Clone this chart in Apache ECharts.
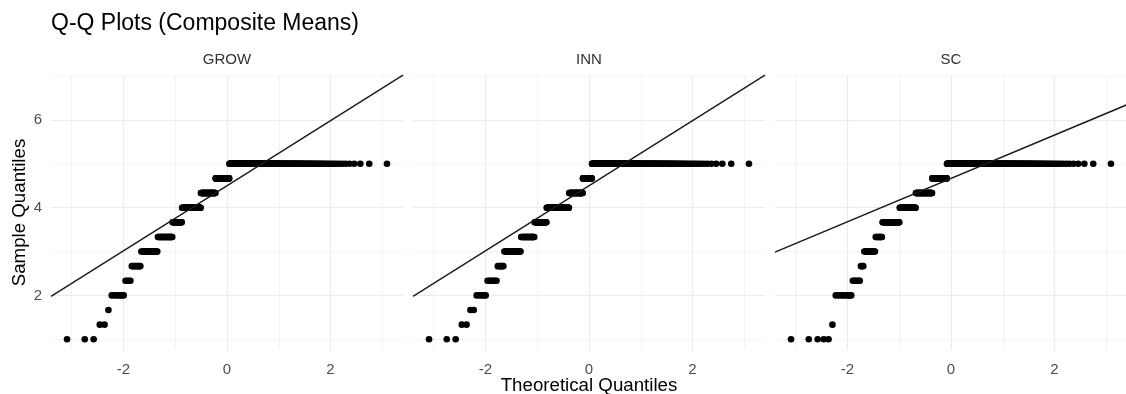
<!DOCTYPE html>
<html>
<head>
<meta charset="utf-8">
<script src="https://cdn.jsdelivr.net/npm/echarts@6/dist/echarts.min.js"></script>
<style>
html, body { margin: 0; padding: 0; background: #fff; }
#chart { width: 1126px; height: 394px; }
</style>
</head>
<body>
<div id="chart"></div>
<script>
// composite mean levels (steps of 1/3 on the 1-5 scale)
var levels = [1, 1.333, 1.667, 2, 2.333, 2.667, 3, 3.333, 3.667, 4, 4.333, 4.667, 5];
// respondents per level, read from the length of each run of points (n = 500)
var growCounts = [3, 2, 1, 6, 4, 8, 21, 28, 23, 57, 53, 53, 241];
var innCounts = [3, 2, 2, 5, 7, 6, 22, 26, 30, 72, 51, 35, 239];
var scCounts = [5, 1, 0, 8, 6, 3, 13, 10, 34, 44, 55, 55, 266];
var panels = ['GROW', 'INN', 'SC'];
var xTicks = [-3, -2, -1, 0, 1, 2, 3];
var yTicks = [1, 2, 3, 4, 5, 6, 7];
var xLabels = [-2, 0, 2];
var yLabels = [2, 4, 6];

var FONT = 'Liberation Sans, Arial, sans-serif';
var xMin = -3.4, xMax = 3.4, yMin = 0.755, yMax = 7.025;
var gridLefts = [51, 413, 775];
var gridW = 352, gridTop = 75, gridH = 275;

// inverse normal cdf (Acklam) - same job as qnorm in stat_qq
function qnorm(p) {
  var a = [-3.969683028665376e+01, 2.209460984245205e+02, -2.759285104469687e+02, 1.383577518672690e+02, -3.066479806614716e+01, 2.506628277459239e+00];
  var b = [-5.447609879822406e+01, 1.615858368580409e+02, -1.556989798598866e+02, 6.680131188771972e+01, -1.328068155288572e+01];
  var c = [-7.784894002430293e-03, -3.223964580411365e-01, -2.400758277161838e+00, -2.549732539343734e+00, 4.374664141464968e+00, 2.938163982698783e+00];
  var d = [7.784695709041462e-03, 3.224671290700398e-01, 2.445134137142996e+00, 3.754408661907416e+00];
  var q, r;
  if (p < 0.02425) {
    q = Math.sqrt(-2 * Math.log(p));
    return (((((c[0]*q+c[1])*q+c[2])*q+c[3])*q+c[4])*q+c[5]) / ((((d[0]*q+d[1])*q+d[2])*q+d[3])*q+1);
  }
  if (p > 1 - 0.02425) {
    q = Math.sqrt(-2 * Math.log(1 - p));
    return -(((((c[0]*q+c[1])*q+c[2])*q+c[3])*q+c[4])*q+c[5]) / ((((d[0]*q+d[1])*q+d[2])*q+d[3])*q+1);
  }
  q = p - 0.5; r = q * q;
  return (((((a[0]*r+a[1])*r+a[2])*r+a[3])*r+a[4])*r+a[5])*q / (((((b[0]*r+b[1])*r+b[2])*r+b[3])*r+b[4])*r+1);
}

function quantile(sorted, p) {
  var h = (sorted.length - 1) * p, lo = Math.floor(h);
  var hi = Math.min(lo + 1, sorted.length - 1);
  return sorted[lo] + (h - lo) * (sorted[hi] - sorted[lo]);
}

function qqData(counts) {
  var sample = [];
  counts.forEach(function (n, i) {
    for (var k = 0; k < n; k++) sample.push(levels[i]);
  });
  var n = sample.length;
  var pts = sample.map(function (y, i) { return [qnorm((i + 0.5) / n), y]; });
  // reference line through the quartiles, like stat_qq_line
  var q1 = quantile(sample, 0.25), q3 = quantile(sample, 0.75);
  var slope = (q3 - q1) / (qnorm(0.75) - qnorm(0.25));
  var icpt = q1 - slope * qnorm(0.25);
  return { pts: pts, line: [[xMin, icpt + slope * xMin], [xMax, icpt + slope * xMax]] };
}

var allCounts = [growCounts, innCounts, scCounts];

var gridLines = xTicks.map(function (v) {
  return { xAxis: v, lineStyle: { width: xLabels.indexOf(v) >= 0 ? 1.1 : 0.6 } };
}).concat(yTicks.map(function (v) {
  return { yAxis: v, lineStyle: { width: yLabels.indexOf(v) >= 0 ? 1.1 : 0.6 } };
}));

var grids = [], xAxes = [], yAxes = [], series = [], strips = [];
panels.forEach(function (name, i) {
  var qq = qqData(allCounts[i]);
  grids.push({ left: gridLefts[i], top: gridTop, width: gridW, height: gridH, outerBoundsMode: 'none', containLabel: false });
  xAxes.push({
    type: 'value', gridIndex: i, min: xMin, max: xMax,
    axisLine: { show: false }, axisTick: { show: false }, splitLine: { show: false },
    axisLabel: {
      color: '#4d4d4d', fontSize: 15, fontFamily: FONT, margin: 12,
      formatter: function (v) { return xLabels.indexOf(v) >= 0 ? String(v) : ''; }
    },
    name: i === 1 ? 'Theoretical Quantiles' : '',
    nameLocation: 'middle', nameGap: 26, nameMoveOverlap: false,
    nameTextStyle: { color: '#000', fontSize: 18.7, fontFamily: FONT }
  });
  yAxes.push({
    type: 'value', gridIndex: i, min: yMin, max: yMax,
    axisLine: { show: false }, axisTick: { show: false }, splitLine: { show: false },
    axisLabel: {
      show: i === 0, color: '#4d4d4d', fontSize: 15, fontFamily: FONT, margin: 9,
      formatter: function (v) { return yLabels.indexOf(v) >= 0 ? String(v) : ''; }
    },
    name: i === 0 ? 'Sample Quantiles' : '',
    nameLocation: 'middle', nameGap: 22,
    nameTextStyle: { color: '#000', fontSize: 18.7, fontFamily: FONT }
  });
  series.push({
    type: 'scatter', xAxisIndex: i, yAxisIndex: i, data: qq.pts,
    symbolSize: 6.6, itemStyle: { color: '#000', opacity: 1 }, z: 3,
    markLine: {
      silent: true, symbol: 'none', z: 1, label: { show: false },
      lineStyle: { color: '#ebebeb', type: 'solid' },
      data: gridLines
    }
  });
  series.push({
    type: 'line', xAxisIndex: i, yAxisIndex: i, data: qq.line,
    showSymbol: false, clip: true, z: 4,
    lineStyle: { color: '#1a1a1a', width: 1.4 }
  });
  strips.push({
    type: 'text', x: gridLefts[i] + gridW / 2, y: 60,
    style: { text: name, fill: '#333', font: '15px ' + FONT, textAlign: 'center', textVerticalAlign: 'middle' }
  });
});

var chart = echarts.init(document.getElementById('chart'));
chart.setOption({
  animation: false,
  backgroundColor: '#fff',
  title: {
    text: 'Q-Q Plots (Composite Means)', left: 51, top: 12, padding: 0,
    textStyle: { color: '#000', fontSize: 23, fontWeight: 'normal', fontFamily: FONT }
  },
  grid: grids,
  xAxis: xAxes,
  yAxis: yAxes,
  graphic: strips,
  series: series
});
</script>
</body>
</html>
